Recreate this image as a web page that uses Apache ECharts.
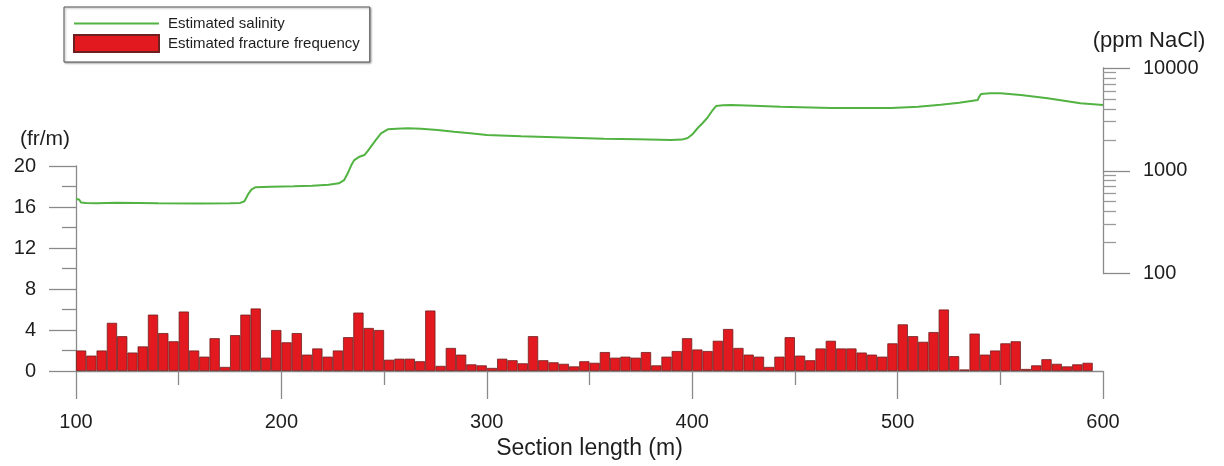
<!DOCTYPE html>
<html>
<head>
<meta charset="utf-8">
<title>Estimated salinity and fracture frequency</title>
<script src="https://cdn.jsdelivr.net/npm/echarts@6/dist/echarts.min.js"></script>
<style>
  html, body { margin: 0; padding: 0; background: #fff; }
  #chart { width: 1224px; height: 466px; }
</style>
</head>
<body>
<div id="chart"></div>
<script>
// fracture frequency (fr/m), one value per 5 m interval starting at 100 m
const binStart = 100;
const binSize = 5;
const fractureFreq = [
  2.0, 1.5, 2.0, 4.7, 3.4, 1.8, 2.4, 5.5, 3.7, 2.9,
  5.8, 2.0, 1.4, 3.2, 0.4, 3.5, 5.5, 6.1, 1.3, 4.0,
  2.8, 3.7, 1.6, 2.2, 1.4, 2.0, 3.3, 5.7, 4.2, 4.0,
  1.1, 1.2, 1.2, 0.95, 5.9, 0.5, 2.25, 1.6, 0.65, 0.55,
  0.3, 1.2, 1.05, 0.75, 3.4, 1.05, 0.85, 0.7, 0.45, 0.95,
  0.8, 1.85, 1.3, 1.4, 1.3, 1.85, 0.55, 1.4, 1.95, 3.2,
  2.1, 1.95, 2.95, 4.1, 2.25, 1.6, 1.4, 0.4, 1.4, 3.3,
  1.5, 1.05, 2.2, 2.95, 2.2, 2.2, 1.8, 1.6, 1.4, 2.7,
  4.55, 3.4, 2.85, 3.8, 6.0, 1.45, 0.15, 3.65, 1.6, 2.0,
  2.7, 2.9, 0.2, 0.55, 1.15, 0.7, 0.45, 0.65, 0.8
];

// estimated salinity trace (section length m, ppm NaCl)
const salinityDist = [
  100, 101.5, 102.5, 105, 110, 115, 120, 140, 160, 175, 180, 182, 184, 185.5, 187.5,
  195, 206, 215, 223, 228, 230.5, 232.3, 234, 235.5, 238, 240.4, 242, 243.6, 246,
  248.5, 251.8, 256, 261.5, 268, 276, 284, 292, 300, 316.7, 333, 357, 373.5, 389.7,
  395, 397.8, 400, 402.7, 405, 407.5, 410, 411.6, 415, 419, 430, 443, 467.6, 497,
  510, 521, 530, 539, 539.5, 540.6, 545, 550, 560, 573, 589, 600
];
const salinityPpm = [
  530, 525, 490, 485, 484, 486, 488, 484, 481, 482, 486, 505, 600, 660, 692,
  700, 705, 715, 731, 755, 810, 944, 1130, 1271, 1370, 1422, 1550, 1714, 2000,
  2312, 2531, 2570, 2588, 2560, 2491, 2399, 2320, 2228, 2163, 2114, 2050, 2022, 1991,
  2010, 2081, 2250, 2606, 2900, 3296, 3900, 4266, 4350, 4365, 4300, 4198, 4080, 4080,
  4200, 4395, 4600, 4880, 5150, 5585, 5680, 5675, 5450, 5070, 4530, 4365
];

// axis ticks
const ppmTicks = [100, 1000, 10000];
const ppmMinorTicks = [200, 300, 400, 500, 600, 700, 800, 900, 2000, 3000, 4000, 5000, 6000, 7000, 8000, 9000];

const font = 'Liberation Sans, Arial, Helvetica, sans-serif';
const axisGray = '#8a8a8a';
const textColor = '#1e1e1e';

const freqData = fractureFreq.map((v, i) => [binStart + binSize * (i + 0.5), v]);
const salinityData = salinityDist.map((d, i) => [d, salinityPpm[i]]);

let chart = echarts.init(document.getElementById('chart'));

chart.setOption({
  animation: false,
  textStyle: { fontFamily: font },
  legend: {
    orient: 'vertical',
    left: 64,
    top: 7,
    padding: [9, 10, 9, 9],
    itemWidth: 85,
    itemHeight: 17,
    itemGap: 3,
    borderColor: '#555',
    borderWidth: 1,
    backgroundColor: '#fff',
    shadowColor: 'rgba(0,0,0,0.35)',
    shadowBlur: 2,
    shadowOffsetX: 1,
    shadowOffsetY: 1,
    textStyle: { fontSize: 15, color: textColor, fontFamily: font, padding: [0, 0, 0, 4] },
    data: [
      // thin bar used as a plain line sample
      { name: 'Estimated salinity', icon: 'path://M0,0 H100 V2.6 H0 Z' },
      { name: 'Estimated fracture frequency', icon: 'rect' }
    ]
  },
  grid: [
    { left: 76, right: 121, top: 166, height: 205 },
    { left: 76, right: 121, top: 68, height: 205.5 }
  ],
  xAxis: [
    {
      type: 'value',
      gridIndex: 0,
      min: 100,
      max: 600,
      interval: 100,
      name: 'Section length (m)',
      nameLocation: 'middle',
      nameGap: 66,
      nameTextStyle: { fontSize: 23, color: textColor },
      axisLine: { lineStyle: { color: axisGray, width: 1.3 } },
      axisTick: { length: 28, lineStyle: { color: axisGray, width: 1.3 } },
      minorTick: { show: true, splitNumber: 2, length: 14, lineStyle: { color: axisGray, width: 1.3 } },
      axisLabel: { fontSize: 20, color: textColor, margin: 41 },
      splitLine: { show: false }
    },
    {
      type: 'value',
      gridIndex: 1,
      min: 100,
      max: 600,
      show: false
    }
  ],
  yAxis: [
    {
      type: 'value',
      gridIndex: 0,
      min: 0,
      max: 20,
      interval: 4,
      name: '(fr/m)',
      nameLocation: 'end',
      nameGap: 16,
      nameTextStyle: { fontSize: 21, color: textColor, align: 'center', padding: [0, 62, 0, 0] },
      axisLine: { show: true, lineStyle: { color: axisGray, width: 1.3 } },
      axisTick: { show: true, length: 27, lineStyle: { color: axisGray, width: 1.3 } },
      minorTick: { show: true, splitNumber: 2, length: 14, lineStyle: { color: axisGray, width: 1.3 } },
      axisLabel: { fontSize: 20, color: textColor, margin: 40 },
      splitLine: { show: false }
    },
    {
      type: 'log',
      gridIndex: 1,
      position: 'right',
      logBase: 10,
      min: 100,
      max: 10000,
      name: '(ppm NaCl)',
      nameLocation: 'end',
      nameGap: 16,
      nameTextStyle: { fontSize: 22, color: textColor, align: 'center', padding: [0, 0, 0, 92] },
      axisLine: { show: true, lineStyle: { color: axisGray, width: 1.3 } },
      axisTick: { show: true, length: 27, customValues: ppmTicks, lineStyle: { color: axisGray, width: 1.3 } },
      axisLabel: { fontSize: 20, color: textColor, margin: 40, customValues: ppmTicks, formatter: (v) => String(Math.round(v)) },
      splitLine: { show: false }
    },
    {
      type: 'log',
      gridIndex: 1,
      position: 'right',
      logBase: 10,
      min: 100,
      max: 10000,
      axisLine: { show: false },
      axisTick: { show: true, length: 13, customValues: ppmMinorTicks, lineStyle: { color: '#9a9a9a', width: 1.3 } },
      axisLabel: { show: false },
      splitLine: { show: false }
    }
  ],
  series: [
    {
      name: 'Estimated salinity',
      type: 'line',
      xAxisIndex: 1,
      yAxisIndex: 1,
      data: salinityData,
      showSymbol: false,
      symbol: 'none',
      lineStyle: { color: '#52b343', width: 2 },
      itemStyle: { color: '#52b343' },
      z: 3
    },
    {
      name: 'Estimated fracture frequency',
      type: 'bar',
      xAxisIndex: 0,
      yAxisIndex: 0,
      data: freqData,
      barWidth: 10,
      itemStyle: { color: '#e2191f', borderColor: '#6e2020', borderWidth: 0.8 },
      z: 2
    }
  ]
});

// make each bar exactly one 5 m interval wide
let binPx = chart.convertToPixel({ xAxisIndex: 0 }, binStart + binSize) - chart.convertToPixel({ xAxisIndex: 0 }, binStart);
chart.setOption({ series: [{}, { barWidth: binPx }] });
</script>
</body>
</html>
